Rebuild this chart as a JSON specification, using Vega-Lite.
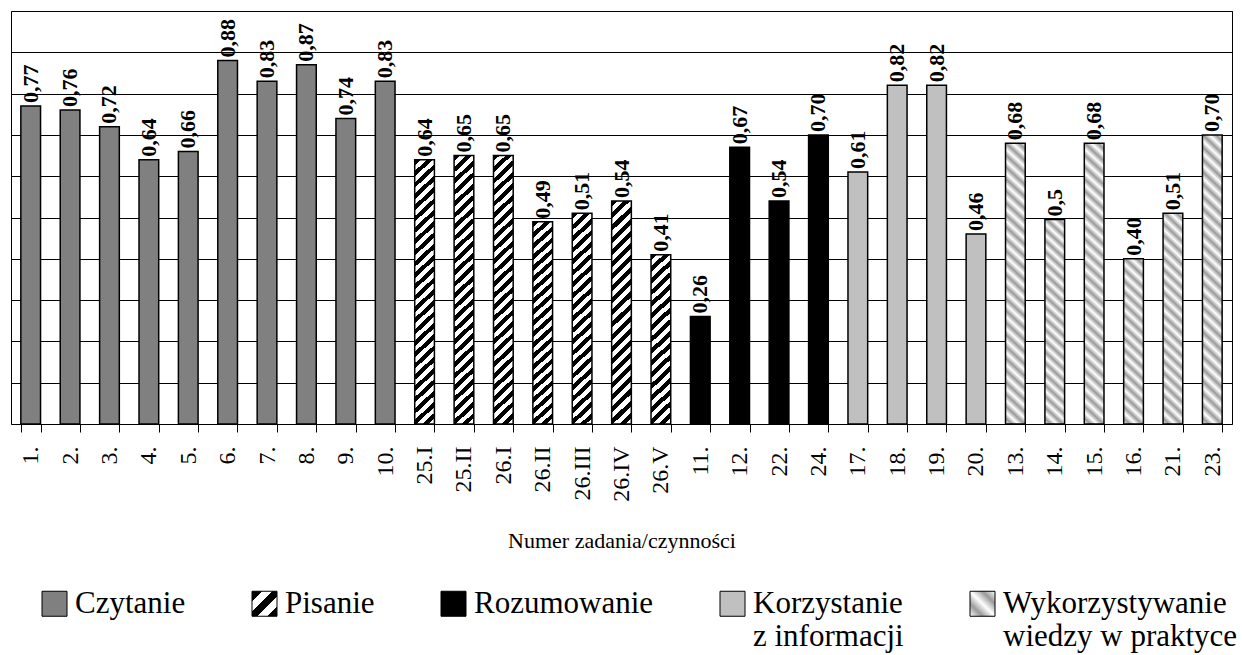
{
"$schema": "https://vega.github.io/schema/vega-lite/v6.json",
"width": 1221, "height": 413,
"autosize": "none",
"padding": {"left": 11, "top": 11, "right": 10, "bottom": 231},
"background": "white",
"config": {"view": {"stroke": "#000", "strokeWidth": 1}, "font": "Liberation Serif", "legend": {"labelFont": "Liberation Serif"}},
"data": {"values": [
{"zad":"1.","v":0.77,"t":"0,77","kat":"Czytanie"},
{"zad":"2.","v":0.76,"t":"0,76","kat":"Czytanie"},
{"zad":"3.","v":0.72,"t":"0,72","kat":"Czytanie"},
{"zad":"4.","v":0.64,"t":"0,64","kat":"Czytanie"},
{"zad":"5.","v":0.66,"t":"0,66","kat":"Czytanie"},
{"zad":"6.","v":0.88,"t":"0,88","kat":"Czytanie"},
{"zad":"7.","v":0.83,"t":"0,83","kat":"Czytanie"},
{"zad":"8.","v":0.87,"t":"0,87","kat":"Czytanie"},
{"zad":"9.","v":0.74,"t":"0,74","kat":"Czytanie"},
{"zad":"10.","v":0.83,"t":"0,83","kat":"Czytanie"},
{"zad":"25.I","v":0.64,"t":"0,64","kat":"Pisanie"},
{"zad":"25.II","v":0.65,"t":"0,65","kat":"Pisanie"},
{"zad":"26.I","v":0.65,"t":"0,65","kat":"Pisanie"},
{"zad":"26.II","v":0.49,"t":"0,49","kat":"Pisanie"},
{"zad":"26.III","v":0.51,"t":"0,51","kat":"Pisanie"},
{"zad":"26.IV","v":0.54,"t":"0,54","kat":"Pisanie"},
{"zad":"26.V","v":0.41,"t":"0,41","kat":"Pisanie"},
{"zad":"11.","v":0.26,"t":"0,26","kat":"Rozumowanie"},
{"zad":"12.","v":0.67,"t":"0,67","kat":"Rozumowanie"},
{"zad":"22.","v":0.54,"t":"0,54","kat":"Rozumowanie"},
{"zad":"24.","v":0.70,"t":"0,70","kat":"Rozumowanie"},
{"zad":"17.","v":0.61,"t":"0,61","kat":"Korzystanie z informacji"},
{"zad":"18.","v":0.82,"t":"0,82","kat":"Korzystanie z informacji"},
{"zad":"19.","v":0.82,"t":"0,82","kat":"Korzystanie z informacji"},
{"zad":"20.","v":0.46,"t":"0,46","kat":"Korzystanie z informacji"},
{"zad":"13.","v":0.68,"t":"0,68","kat":"Wykorzystywanie wiedzy w praktyce"},
{"zad":"14.","v":0.495,"t":"0,5","kat":"Wykorzystywanie wiedzy w praktyce"},
{"zad":"15.","v":0.68,"t":"0,68","kat":"Wykorzystywanie wiedzy w praktyce"},
{"zad":"16.","v":0.40,"t":"0,40","kat":"Wykorzystywanie wiedzy w praktyce"},
{"zad":"21.","v":0.51,"t":"0,51","kat":"Wykorzystywanie wiedzy w praktyce"},
{"zad":"23.","v":0.70,"t":"0,70","kat":"Wykorzystywanie wiedzy w praktyce"}
]},
"encoding": {
"x": {"field": "zad", "type": "nominal", "sort": null,
 "scale": {"paddingInner": 0.5, "paddingOuter": 0.25},
 "axis": {"title": "Numer zadania/czynności", "labelAngle": 270, "labelFontSize": 24, "labelFont": "Liberation Serif", "labelColor": "#000", "labelPadding": 14, "tickBand": "extent", "tickSize": 8, "tickColor": "#000", "domainColor": "#000", "titleFontSize": 22, "titleFontWeight": "normal", "titleFont": "Liberation Serif", "titleColor": "#000", "titleY": 116, "titleBaseline": "middle", "grid": false, "labelLimit": 0}},
"y": {"field": "v", "type": "quantitative", "scale": {"domain": [0, 1]},
 "axis": {"title": null, "labels": false, "ticks": false, "domain": false, "grid": true, "gridColor": "#000", "gridWidth": 1, "values": [0.1,0.2,0.3,0.4,0.5,0.6,0.7,0.8,0.9,1]}}
},
"layer": [
{"mark": {"type": "bar", "stroke": "#000", "strokeWidth": 1.5},
 "encoding": {"fill": {"field": "kat", "type": "nominal",
  "scale": {"domain": ["Czytanie","Pisanie","Rozumowanie","Korzystanie z informacji","Wykorzystywanie wiedzy w praktyce"],
   "range": ["#808080",
    {"expr": "{gradient: 'linear', x1: 0, y1: 0, x2: 1, y2: 1, stops: [{offset: 0, color: '#000'}, {offset: 0.2, color: '#000'}, {offset: 0.2, color: '#fff'}, {offset: 0.4, color: '#fff'}, {offset: 0.4, color: '#000'}, {offset: 0.6, color: '#000'}, {offset: 0.6, color: '#fff'}, {offset: 0.8, color: '#fff'}, {offset: 0.8, color: '#000'}, {offset: 1, color: '#000'}]}"},
    "#000", "#c0c0c0",
    {"expr": "{gradient: 'linear', x1: 0, y1: 1, x2: 1, y2: 0, stops: [{offset: 0, color: '#fff'}, {offset: 0.25, color: '#999'}, {offset: 0.5, color: '#fff'}, {offset: 0.75, color: '#999'}, {offset: 1, color: '#fff'}]}"}]},
  "legend": {"title": null, "orient": "none", "legendX": 28, "legendY": 577, "direction": "horizontal", "columns": 5, "symbolType": "square", "symbolSize": 625, "symbolStrokeColor": "#000", "symbolStrokeWidth": 1, "labelFont": "Liberation Serif", "labelFontSize": 31, "labelColor": "#000", "labelLimit": 0, "columnPadding": 63, "labelOffset": 5, "padding": 0,
   "labelExpr": "datum.label == 'Korzystanie z informacji' ? ['Korzystanie', 'z informacji'] : datum.label == 'Wykorzystywanie wiedzy w praktyce' ? ['Wykorzystywanie', 'wiedzy w praktyce'] : [datum.label, '']"},
  "condition": [
   {"test": "datum.kat == 'Pisanie' && datum.v > 0.6", "value": {"gradient":"linear","x1":0,"y1":0,"x2":0.074,"y2":1.0644,"stops":[
{"offset":0,"color":"#000"},{"offset":0.02,"color":"#000"},{"offset":0.02,"color":"#fff"},{"offset":0.04,"color":"#fff"},
{"offset":0.04,"color":"#000"},{"offset":0.06,"color":"#000"},{"offset":0.06,"color":"#fff"},{"offset":0.08,"color":"#fff"},
{"offset":0.08,"color":"#000"},{"offset":0.10,"color":"#000"},{"offset":0.10,"color":"#fff"},{"offset":0.12,"color":"#fff"},
{"offset":0.12,"color":"#000"},{"offset":0.14,"color":"#000"},{"offset":0.14,"color":"#fff"},{"offset":0.16,"color":"#fff"},
{"offset":0.16,"color":"#000"},{"offset":0.18,"color":"#000"},{"offset":0.18,"color":"#fff"},{"offset":0.20,"color":"#fff"},
{"offset":0.20,"color":"#000"},{"offset":0.22,"color":"#000"},{"offset":0.22,"color":"#fff"},{"offset":0.24,"color":"#fff"},
{"offset":0.24,"color":"#000"},{"offset":0.26,"color":"#000"},{"offset":0.26,"color":"#fff"},{"offset":0.28,"color":"#fff"},
{"offset":0.28,"color":"#000"},{"offset":0.30,"color":"#000"},{"offset":0.30,"color":"#fff"},{"offset":0.32,"color":"#fff"},
{"offset":0.32,"color":"#000"},{"offset":0.34,"color":"#000"},{"offset":0.34,"color":"#fff"},{"offset":0.36,"color":"#fff"},
{"offset":0.36,"color":"#000"},{"offset":0.38,"color":"#000"},{"offset":0.38,"color":"#fff"},{"offset":0.40,"color":"#fff"},
{"offset":0.40,"color":"#000"},{"offset":0.42,"color":"#000"},{"offset":0.42,"color":"#fff"},{"offset":0.44,"color":"#fff"},
{"offset":0.44,"color":"#000"},{"offset":0.46,"color":"#000"},{"offset":0.46,"color":"#fff"},{"offset":0.48,"color":"#fff"},
{"offset":0.48,"color":"#000"},{"offset":0.50,"color":"#000"},{"offset":0.50,"color":"#fff"},{"offset":0.52,"color":"#fff"},
{"offset":0.52,"color":"#000"},{"offset":0.54,"color":"#000"},{"offset":0.54,"color":"#fff"},{"offset":0.56,"color":"#fff"},
{"offset":0.56,"color":"#000"},{"offset":0.58,"color":"#000"},{"offset":0.58,"color":"#fff"},{"offset":0.60,"color":"#fff"},
{"offset":0.60,"color":"#000"},{"offset":0.62,"color":"#000"},{"offset":0.62,"color":"#fff"},{"offset":0.64,"color":"#fff"},
{"offset":0.64,"color":"#000"},{"offset":0.66,"color":"#000"},{"offset":0.66,"color":"#fff"},{"offset":0.68,"color":"#fff"},
{"offset":0.68,"color":"#000"},{"offset":0.70,"color":"#000"},{"offset":0.70,"color":"#fff"},{"offset":0.72,"color":"#fff"},
{"offset":0.72,"color":"#000"},{"offset":0.74,"color":"#000"},{"offset":0.74,"color":"#fff"},{"offset":0.76,"color":"#fff"},
{"offset":0.76,"color":"#000"},{"offset":0.78,"color":"#000"},{"offset":0.78,"color":"#fff"},{"offset":0.80,"color":"#fff"},
{"offset":0.80,"color":"#000"},{"offset":0.82,"color":"#000"},{"offset":0.82,"color":"#fff"},{"offset":0.84,"color":"#fff"},
{"offset":0.84,"color":"#000"},{"offset":0.86,"color":"#000"},{"offset":0.86,"color":"#fff"},{"offset":0.88,"color":"#fff"},
{"offset":0.88,"color":"#000"},{"offset":0.90,"color":"#000"},{"offset":0.90,"color":"#fff"},{"offset":0.92,"color":"#fff"},
{"offset":0.92,"color":"#000"},{"offset":0.94,"color":"#000"},{"offset":0.94,"color":"#fff"},{"offset":0.96,"color":"#fff"},
{"offset":0.96,"color":"#000"},{"offset":0.98,"color":"#000"},{"offset":0.98,"color":"#fff"},{"offset":1,"color":"#fff"}]}},
   {"test": "datum.kat == 'Pisanie' && datum.v > 0.45", "value": {"gradient":"linear","x1":0,"y1":0,"x2":0.0942,"y2":1.0791,"stops":[
{"offset":0,"color":"#000"},{"offset":0.025,"color":"#000"},{"offset":0.025,"color":"#fff"},{"offset":0.05,"color":"#fff"},
{"offset":0.05,"color":"#000"},{"offset":0.075,"color":"#000"},{"offset":0.075,"color":"#fff"},{"offset":0.1,"color":"#fff"},
{"offset":0.1,"color":"#000"},{"offset":0.125,"color":"#000"},{"offset":0.125,"color":"#fff"},{"offset":0.15,"color":"#fff"},
{"offset":0.15,"color":"#000"},{"offset":0.175,"color":"#000"},{"offset":0.175,"color":"#fff"},{"offset":0.2,"color":"#fff"},
{"offset":0.2,"color":"#000"},{"offset":0.225,"color":"#000"},{"offset":0.225,"color":"#fff"},{"offset":0.25,"color":"#fff"},
{"offset":0.25,"color":"#000"},{"offset":0.275,"color":"#000"},{"offset":0.275,"color":"#fff"},{"offset":0.3,"color":"#fff"},
{"offset":0.3,"color":"#000"},{"offset":0.325,"color":"#000"},{"offset":0.325,"color":"#fff"},{"offset":0.35,"color":"#fff"},
{"offset":0.35,"color":"#000"},{"offset":0.375,"color":"#000"},{"offset":0.375,"color":"#fff"},{"offset":0.4,"color":"#fff"},
{"offset":0.4,"color":"#000"},{"offset":0.425,"color":"#000"},{"offset":0.425,"color":"#fff"},{"offset":0.45,"color":"#fff"},
{"offset":0.45,"color":"#000"},{"offset":0.475,"color":"#000"},{"offset":0.475,"color":"#fff"},{"offset":0.5,"color":"#fff"},
{"offset":0.5,"color":"#000"},{"offset":0.525,"color":"#000"},{"offset":0.525,"color":"#fff"},{"offset":0.55,"color":"#fff"},
{"offset":0.55,"color":"#000"},{"offset":0.575,"color":"#000"},{"offset":0.575,"color":"#fff"},{"offset":0.6,"color":"#fff"},
{"offset":0.6,"color":"#000"},{"offset":0.625,"color":"#000"},{"offset":0.625,"color":"#fff"},{"offset":0.65,"color":"#fff"},
{"offset":0.65,"color":"#000"},{"offset":0.675,"color":"#000"},{"offset":0.675,"color":"#fff"},{"offset":0.7,"color":"#fff"},
{"offset":0.7,"color":"#000"},{"offset":0.725,"color":"#000"},{"offset":0.725,"color":"#fff"},{"offset":0.75,"color":"#fff"},
{"offset":0.75,"color":"#000"},{"offset":0.775,"color":"#000"},{"offset":0.775,"color":"#fff"},{"offset":0.8,"color":"#fff"},
{"offset":0.8,"color":"#000"},{"offset":0.825,"color":"#000"},{"offset":0.825,"color":"#fff"},{"offset":0.85,"color":"#fff"},
{"offset":0.85,"color":"#000"},{"offset":0.875,"color":"#000"},{"offset":0.875,"color":"#fff"},{"offset":0.9,"color":"#fff"},
{"offset":0.9,"color":"#000"},{"offset":0.925,"color":"#000"},{"offset":0.925,"color":"#fff"},{"offset":0.95,"color":"#fff"},
{"offset":0.95,"color":"#000"},{"offset":0.975,"color":"#000"},{"offset":0.975,"color":"#fff"},{"offset":1,"color":"#fff"}]}},
   {"test": "datum.kat == 'Pisanie'", "value": {"gradient":"linear","x1":0,"y1":0,"x2":0.1198,"y2":1.0962,"stops":[
{"offset":0,"color":"#000"},{"offset":0.03125,"color":"#000"},{"offset":0.03125,"color":"#fff"},{"offset":0.0625,"color":"#fff"},
{"offset":0.0625,"color":"#000"},{"offset":0.09375,"color":"#000"},{"offset":0.09375,"color":"#fff"},{"offset":0.125,"color":"#fff"},
{"offset":0.125,"color":"#000"},{"offset":0.15625,"color":"#000"},{"offset":0.15625,"color":"#fff"},{"offset":0.1875,"color":"#fff"},
{"offset":0.1875,"color":"#000"},{"offset":0.21875,"color":"#000"},{"offset":0.21875,"color":"#fff"},{"offset":0.25,"color":"#fff"},
{"offset":0.25,"color":"#000"},{"offset":0.28125,"color":"#000"},{"offset":0.28125,"color":"#fff"},{"offset":0.3125,"color":"#fff"},
{"offset":0.3125,"color":"#000"},{"offset":0.34375,"color":"#000"},{"offset":0.34375,"color":"#fff"},{"offset":0.375,"color":"#fff"},
{"offset":0.375,"color":"#000"},{"offset":0.40625,"color":"#000"},{"offset":0.40625,"color":"#fff"},{"offset":0.4375,"color":"#fff"},
{"offset":0.4375,"color":"#000"},{"offset":0.46875,"color":"#000"},{"offset":0.46875,"color":"#fff"},{"offset":0.5,"color":"#fff"},
{"offset":0.5,"color":"#000"},{"offset":0.53125,"color":"#000"},{"offset":0.53125,"color":"#fff"},{"offset":0.5625,"color":"#fff"},
{"offset":0.5625,"color":"#000"},{"offset":0.59375,"color":"#000"},{"offset":0.59375,"color":"#fff"},{"offset":0.625,"color":"#fff"},
{"offset":0.625,"color":"#000"},{"offset":0.65625,"color":"#000"},{"offset":0.65625,"color":"#fff"},{"offset":0.6875,"color":"#fff"},
{"offset":0.6875,"color":"#000"},{"offset":0.71875,"color":"#000"},{"offset":0.71875,"color":"#fff"},{"offset":0.75,"color":"#fff"},
{"offset":0.75,"color":"#000"},{"offset":0.78125,"color":"#000"},{"offset":0.78125,"color":"#fff"},{"offset":0.8125,"color":"#fff"},
{"offset":0.8125,"color":"#000"},{"offset":0.84375,"color":"#000"},{"offset":0.84375,"color":"#fff"},{"offset":0.875,"color":"#fff"},
{"offset":0.875,"color":"#000"},{"offset":0.90625,"color":"#000"},{"offset":0.90625,"color":"#fff"},{"offset":0.9375,"color":"#fff"},
{"offset":0.9375,"color":"#000"},{"offset":0.96875,"color":"#000"},{"offset":0.96875,"color":"#fff"},{"offset":1,"color":"#fff"}]}},
   {"test": "datum.kat == 'Wykorzystywanie wiedzy w praktyce' && datum.v > 0.6", "value": {"gradient":"linear","x1":0,"y1":1,"x2":0.0692,"y2":-0.0607,"stops":[
{"offset":0,"color":"#fff"},{"offset":0.02,"color":"#999"},{"offset":0.04,"color":"#fff"},{"offset":0.06,"color":"#999"},{"offset":0.08,"color":"#fff"},
{"offset":0.10,"color":"#999"},{"offset":0.12,"color":"#fff"},{"offset":0.14,"color":"#999"},{"offset":0.16,"color":"#fff"},{"offset":0.18,"color":"#999"},
{"offset":0.20,"color":"#fff"},{"offset":0.22,"color":"#999"},{"offset":0.24,"color":"#fff"},{"offset":0.26,"color":"#999"},{"offset":0.28,"color":"#fff"},
{"offset":0.30,"color":"#999"},{"offset":0.32,"color":"#fff"},{"offset":0.34,"color":"#999"},{"offset":0.36,"color":"#fff"},{"offset":0.38,"color":"#999"},
{"offset":0.40,"color":"#fff"},{"offset":0.42,"color":"#999"},{"offset":0.44,"color":"#fff"},{"offset":0.46,"color":"#999"},{"offset":0.48,"color":"#fff"},
{"offset":0.50,"color":"#999"},{"offset":0.52,"color":"#fff"},{"offset":0.54,"color":"#999"},{"offset":0.56,"color":"#fff"},{"offset":0.58,"color":"#999"},
{"offset":0.60,"color":"#fff"},{"offset":0.62,"color":"#999"},{"offset":0.64,"color":"#fff"},{"offset":0.66,"color":"#999"},{"offset":0.68,"color":"#fff"},
{"offset":0.70,"color":"#999"},{"offset":0.72,"color":"#fff"},{"offset":0.74,"color":"#999"},{"offset":0.76,"color":"#fff"},{"offset":0.78,"color":"#999"},
{"offset":0.80,"color":"#fff"},{"offset":0.82,"color":"#999"},{"offset":0.84,"color":"#fff"},{"offset":0.86,"color":"#999"},{"offset":0.88,"color":"#fff"},
{"offset":0.90,"color":"#999"},{"offset":0.92,"color":"#fff"},{"offset":0.94,"color":"#999"},{"offset":0.96,"color":"#fff"},{"offset":0.98,"color":"#999"},
{"offset":1,"color":"#fff"}]}},
   {"test": "datum.kat == 'Wykorzystywanie wiedzy w praktyce' && datum.v > 0.45", "value": {"gradient":"linear","x1":0,"y1":1,"x2":0.0964,"y2":-0.0806,"stops":[
{"offset":0,"color":"#fff"},{"offset":0.025,"color":"#999"},{"offset":0.05,"color":"#fff"},{"offset":0.075,"color":"#999"},{"offset":0.1,"color":"#fff"},
{"offset":0.125,"color":"#999"},{"offset":0.15,"color":"#fff"},{"offset":0.175,"color":"#999"},{"offset":0.2,"color":"#fff"},{"offset":0.225,"color":"#999"},
{"offset":0.25,"color":"#fff"},{"offset":0.275,"color":"#999"},{"offset":0.3,"color":"#fff"},{"offset":0.325,"color":"#999"},{"offset":0.35,"color":"#fff"},
{"offset":0.375,"color":"#999"},{"offset":0.4,"color":"#fff"},{"offset":0.425,"color":"#999"},{"offset":0.45,"color":"#fff"},{"offset":0.475,"color":"#999"},
{"offset":0.5,"color":"#fff"},{"offset":0.525,"color":"#999"},{"offset":0.55,"color":"#fff"},{"offset":0.575,"color":"#999"},{"offset":0.6,"color":"#fff"},
{"offset":0.625,"color":"#999"},{"offset":0.65,"color":"#fff"},{"offset":0.675,"color":"#999"},{"offset":0.7,"color":"#fff"},{"offset":0.725,"color":"#999"},
{"offset":0.75,"color":"#fff"},{"offset":0.775,"color":"#999"},{"offset":0.8,"color":"#fff"},{"offset":0.825,"color":"#999"},{"offset":0.85,"color":"#fff"},
{"offset":0.875,"color":"#999"},{"offset":0.9,"color":"#fff"},{"offset":0.925,"color":"#999"},{"offset":0.95,"color":"#fff"},{"offset":0.975,"color":"#999"},
{"offset":1,"color":"#fff"}]}},
   {"test": "datum.kat == 'Wykorzystywanie wiedzy w praktyce'", "value": {"gradient":"linear","x1":0,"y1":1,"x2":0.123,"y2":-0.0982,"stops":[
{"offset":0,"color":"#fff"},{"offset":0.03125,"color":"#999"},{"offset":0.0625,"color":"#fff"},{"offset":0.09375,"color":"#999"},
{"offset":0.125,"color":"#fff"},{"offset":0.15625,"color":"#999"},{"offset":0.1875,"color":"#fff"},{"offset":0.21875,"color":"#999"},
{"offset":0.25,"color":"#fff"},{"offset":0.28125,"color":"#999"},{"offset":0.3125,"color":"#fff"},{"offset":0.34375,"color":"#999"},
{"offset":0.375,"color":"#fff"},{"offset":0.40625,"color":"#999"},{"offset":0.4375,"color":"#fff"},{"offset":0.46875,"color":"#999"},
{"offset":0.5,"color":"#fff"},{"offset":0.53125,"color":"#999"},{"offset":0.5625,"color":"#fff"},{"offset":0.59375,"color":"#999"},
{"offset":0.625,"color":"#fff"},{"offset":0.65625,"color":"#999"},{"offset":0.6875,"color":"#fff"},{"offset":0.71875,"color":"#999"},
{"offset":0.75,"color":"#fff"},{"offset":0.78125,"color":"#999"},{"offset":0.8125,"color":"#fff"},{"offset":0.84375,"color":"#999"},
{"offset":0.875,"color":"#fff"},{"offset":0.90625,"color":"#999"},{"offset":0.9375,"color":"#fff"},{"offset":0.96875,"color":"#999"},
{"offset":1,"color":"#fff"}]}}
  ]}}},
{"mark": {"type": "text", "angle": 270, "align": "left", "baseline": "middle", "dx": 3, "font": "Liberation Serif", "fontSize": 22, "fontWeight": "bold", "color": "#000"},
 "encoding": {"text": {"field": "t"}}}
]
}
